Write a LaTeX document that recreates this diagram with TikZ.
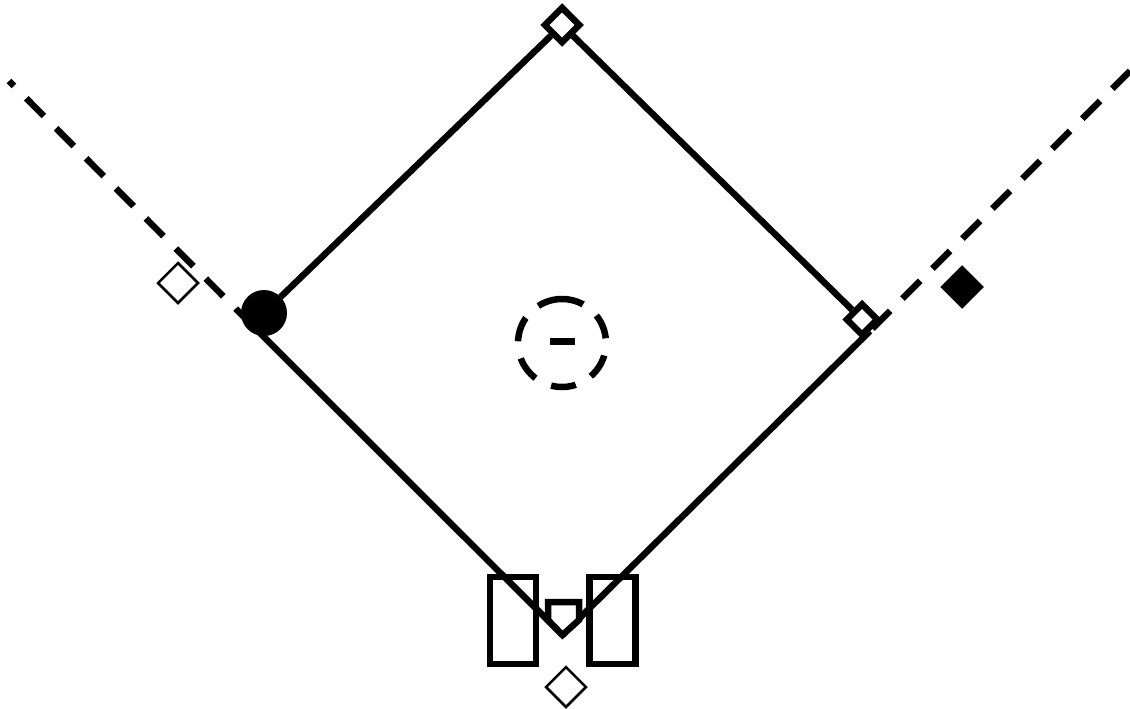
\documentclass[tikz,border=0pt]{standalone}
\usetikzlibrary{shapes.geometric}
\tikzstyle{every path}=[line width=6.5pt]
\tikzstyle{basebag}=[draw, fill=white, shape=diamond, aspect=1, inner sep=0pt, minimum width=37pt, minimum height=37pt]
\tikzstyle{fielder}=[draw, line width=2.5pt, shape=diamond, aspect=1, inner sep=0pt, minimum width=41pt, minimum height=41pt]
\tikzstyle{batterbox}=[draw, shape=rectangle, inner sep=0pt, minimum width=46pt, minimum height=87pt]
\tikzstyle{foulline}=[dash pattern=on 25pt off 17.4pt]
\begin{document}
\begin{tikzpicture}[x=1pt, y=-1pt]
  \useasboundingbox (0,0) rectangle (1130,709);

  % Free ends of the lines
  \coordinate (homeapex) at (562.5,635);
  \coordinate (leftend) at (9,81);
  \coordinate (leftbreak) at (243,316);
  \coordinate (rightend) at (1130,71);
  \coordinate (rightbreak) at (870,331);
  \coordinate (moundtop) at (562,299);

  % Bases
  \node[circle, fill=black, inner sep=0pt, minimum size=46pt, line width=0pt] (third) at (264,313) {};
  \node[basebag] (second) at (562,25) {};
  \node[basebag, minimum width=33pt, minimum height=33pt] (first) at (862,319.5) {};

  % Infield
  \draw (third) -- (second);
  \draw (second) -- (first);
  \draw (homeapex) -- (rightbreak);
  \draw (homeapex) -- (leftbreak);

  % Foul lines beyond the bases
  \draw[foulline, dash phase=18pt] (leftend) -- (leftbreak);
  \draw[foulline] (rightend) -- (rightbreak);

  % Mound
  \draw[foulline] (moundtop) arc[start angle=90, delta angle=360, radius=44pt];
  \node[fill=black, inner sep=0pt, minimum width=25pt, minimum height=7pt, line width=0pt] (rubber) at (562.5,341.5) {};

  % Home plate and batter boxes
  \node[batterbox] (leftbox) at (513,620.5) {};
  \node[batterbox] (rightbox) at (612.5,620.5) {};
  \filldraw[fill=white] (548,602) -- (579,602) -- (579,620) -- (homeapex) -- (548,620) -- cycle;

  % Fielders
  \node[fielder] (leftfielder) at (178,283) {};
  \node[fielder] (catcher) at (566,687) {};
  \node[fielder, fill=black] (rightfielder) at (962,287) {};
\end{tikzpicture}
\end{document}
